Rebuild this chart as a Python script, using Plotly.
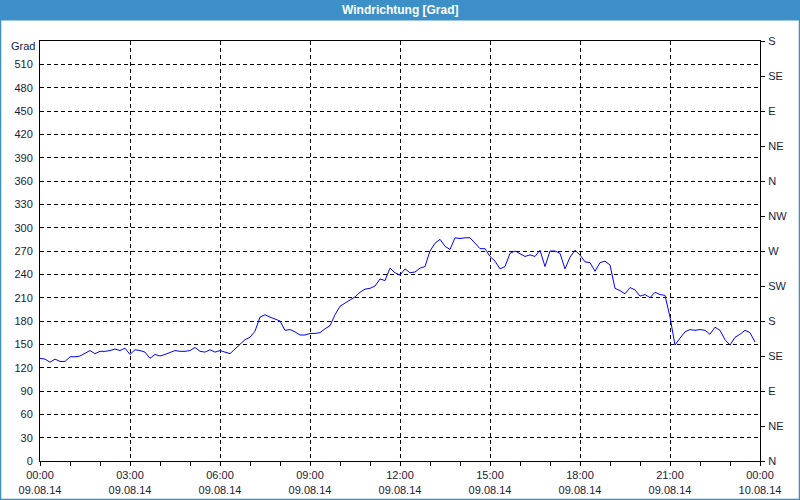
import plotly.graph_objects as go
import pandas as pd

# 10-minute samples, 09.08.14 00:00 .. 23:50
start = "2014-08-09 00:00"
values = [
    132, 131, 127, 131, 128, 128, 134, 134, 135, 139, 142, 138,
    141, 141, 142, 144, 142, 145, 137, 143, 142, 140, 132, 137,
    135, 137, 139, 142, 141, 141, 142, 146, 141, 140, 143, 140,
    142, 140, 138, 144, 150, 156, 159, 167, 185, 188, 185, 182,
    180, 168, 169, 166, 162, 162, 164, 164, 165, 170, 174, 188,
    199, 203, 207, 211, 217, 221, 222, 225, 234, 232, 248, 242,
    239, 247, 242, 243, 248, 250, 270, 280, 285, 276, 272, 287,
    286, 287, 287, 280, 273, 273, 263, 257, 247, 250, 267, 270,
    267, 263, 265, 263, 271, 250, 270, 270, 267, 247, 262, 271,
    265, 256, 255, 244, 255, 257, 252, 222, 219, 215, 223, 220,
    212, 214, 210, 217, 214, 213, 185, 149, 158, 166, 169, 168,
    169, 168, 163, 172, 168, 156, 149, 159, 163, 168, 165, 153,
]
times = pd.date_range(start, periods=len(values), freq="10min")

x_tickvals = pd.date_range("2014-08-09 00:00", "2014-08-10 00:00", freq="3h")
x_ticktext = [t.strftime("%H:%M") + "<br>" + t.strftime("%d.%m.%y") for t in x_tickvals]

y_tickvals = list(range(0, 511, 30))
dir_tickvals = list(range(0, 541, 45))
dir_ticktext = ["N", "NE", "E", "SE", "S", "SW", "W", "NW", "N", "NE", "E", "SE", "S"]

title_text = "Windrichtung [Grad]"
unit_text = "Grad"

W, H = 800, 500
L, R, T, B = 40, 40, 41, 39
pw, ph = W - L - R, H - T - B

def px_x(px):
    return (px - L) / pw

def px_y(py):
    return (H - B - py) / ph

fig = go.Figure()
fig.add_trace(go.Scatter(x=times, y=values, mode="lines",
                         line=dict(color="#0000ff", width=1),
                         hoverinfo="skip", showlegend=False))
fig.add_trace(go.Scatter(x=times, y=values, mode="lines", yaxis="y2",
                         line=dict(color="rgba(0,0,0,0)", width=0),
                         hoverinfo="skip", showlegend=False))

font = dict(family="Liberation Sans", size=11, color="#1a1a3a")
grid = dict(showgrid=True, gridcolor="#000000", gridwidth=1, griddash="4px,3px")

fig.update_layout(
    width=W, height=H,
    margin=dict(l=L, r=R, t=T, b=B, pad=0, autoexpand=False),
    paper_bgcolor="#ffffff", plot_bgcolor="#ffffff",
    font=font,
    showlegend=False,
    xaxis=dict(
        range=[x_tickvals[0], x_tickvals[-1]],
        tickmode="array", tickvals=x_tickvals, ticktext=x_ticktext,
        ticks="outside", ticklen=4, tickcolor="#000000",
        minor=dict(dtick=3600000, ticks="outside", ticklen=4, tickcolor="#000000", showgrid=False),
        showline=True, linecolor="#000000", linewidth=1, mirror=True,
        zeroline=False, automargin=False, ticklabelstandoff=0, **grid,
    ),
    yaxis=dict(
        range=[0, 540], tickmode="array", tickvals=y_tickvals,
        ticks="", showline=True, linecolor="#000000", linewidth=1,
        zeroline=False, ticklabelstandoff=4, automargin=False, **grid,
    ),
    yaxis2=dict(
        range=[0, 540], overlaying="y", side="right",
        tickmode="array", tickvals=dir_tickvals, ticktext=dir_ticktext,
        ticks="outside", ticklen=4, tickcolor="#000000",
        showline=True, linecolor="#000000", linewidth=1,
        showgrid=False, zeroline=False, ticklabelstandoff=1, automargin=False,
    ),
    shapes=[
        dict(type="rect", xref="paper", yref="paper",
             x0=px_x(0), x1=px_x(W), y0=px_y(20.5), y1=px_y(0),
             fillcolor="#3c8fc7", line=dict(width=0), layer="below"),
        dict(type="rect", xref="paper", yref="paper",
             x0=px_x(0.5), x1=px_x(W - 0.5), y0=px_y(H - 0.5), y1=px_y(0.5),
             fillcolor="rgba(0,0,0,0)", line=dict(color="#3c8fc7", width=1.5)),
    ],
    annotations=[
        dict(text="<b>" + title_text + "</b>", xref="paper", yref="paper",
             x=px_x(W / 2), y=px_y(10), xanchor="center", yanchor="middle",
             showarrow=False, font=dict(family="Liberation Sans", size=12, color="#ffffff")),
        dict(text=unit_text, xref="paper", yref="paper",
             x=px_x(37), y=px_y(46), xanchor="right", yanchor="middle",
             showarrow=False, font=font),
    ],
)

fig.write_html("out.html")
